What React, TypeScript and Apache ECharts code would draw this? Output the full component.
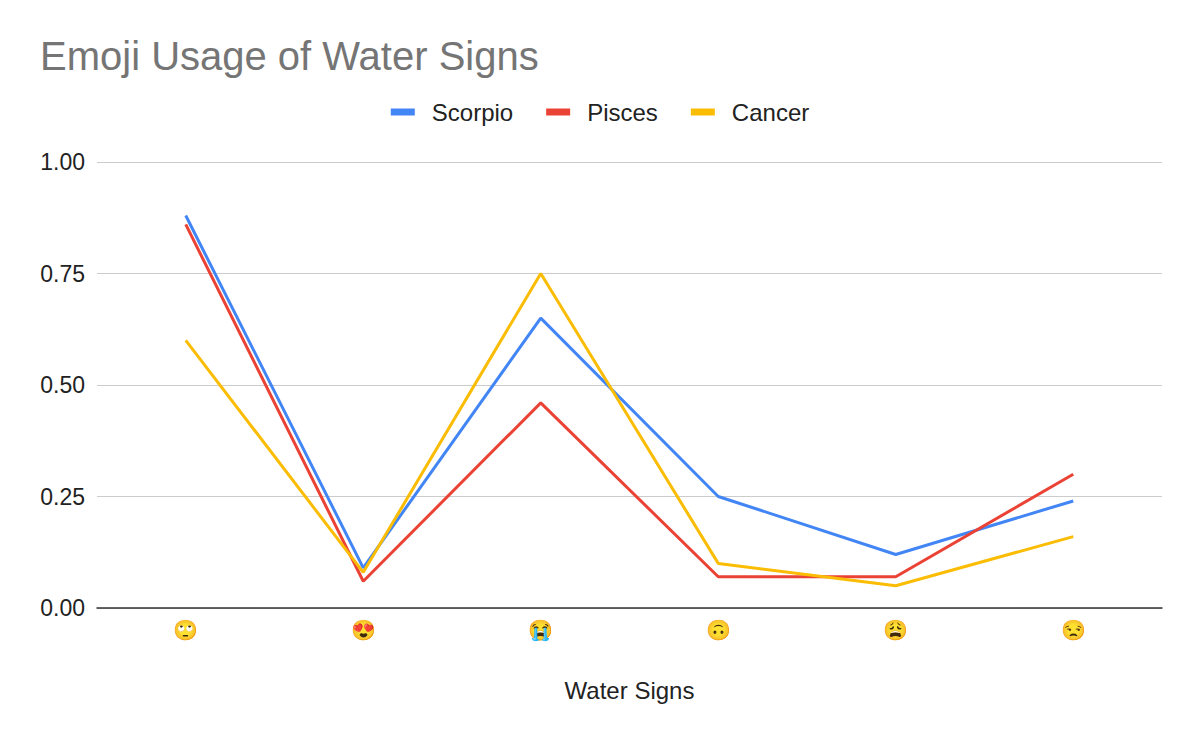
import React, { useEffect, useRef } from 'react';
import * as echarts from 'echarts';

const emojis = ['🙄', '😍', '😭', '🙃', '😩', '😒'];
const scorpio = [0.88, 0.09, 0.65, 0.25, 0.12, 0.24];
const pisces = [0.86, 0.06, 0.46, 0.07, 0.07, 0.3];
const cancer = [0.6, 0.08, 0.75, 0.1, 0.05, 0.16];

const font = '"Liberation Sans", Arial, sans-serif';

const App: React.FC = () => {
  const chartRef = useRef<HTMLDivElement | null>(null);

  useEffect(() => {
    let chart: echarts.ECharts | null = null;
    if (chartRef.current) {
      chart = echarts.init(chartRef.current, null, { renderer: 'svg' });

      const line = (name: string, data: number[], color: string) => ({
        name,
        type: 'line',
        data,
        symbol: 'none',
        color,
        lineStyle: { width: 3, color },
      });

      chart.setOption({
        animation: false,
        backgroundColor: '#ffffff',
        textStyle: { fontFamily: font },
        title: {
          text: 'Emoji Usage of Water Signs',
          left: 35,
          top: 31,
          textStyle: { fontSize: 40, fontWeight: 'normal', color: '#757575', fontFamily: font },
        },
        legend: {
          top: 95,
          left: 'center',
          icon: 'rect',
          itemWidth: 24,
          itemHeight: 7,
          itemGap: 33,
          textStyle: { fontSize: 24, color: '#222', padding: [0, 0, 0, 12], fontFamily: font },
          data: ['Scorpio', 'Pisces', 'Cancer'],
        },
        grid: { left: 97, right: 38, top: 162, bottom: 134 },
        xAxis: {
          type: 'category',
          data: emojis,
          boundaryGap: true,
          name: 'Water Signs',
          nameLocation: 'middle',
          nameGap: 70,
          nameTextStyle: { fontSize: 24, color: '#222', fontFamily: font },
          axisLine: { lineStyle: { color: '#333', width: 1.5 } },
          axisTick: { show: false },
          axisLabel: { fontSize: 20, margin: 12, color: '#222' },
        },
        yAxis: {
          type: 'value',
          min: 0,
          max: 1,
          interval: 0.25,
          axisLine: { show: false },
          axisTick: { show: false },
          splitLine: { lineStyle: { color: '#cccccc', width: 1 } },
          axisLabel: {
            fontSize: 23,
            margin: 12,
            color: '#222',
            fontFamily: font,
            formatter: (v: number) => v.toFixed(2),
          },
        },
        series: [
          line('Scorpio', scorpio, '#4285f4'),
          line('Pisces', pisces, '#ea4335'),
          line('Cancer', cancer, '#fbbc04'),
        ],
      });
    }
    return () => {
      chart?.dispose();
    };
  }, []);

  return (
    <div
      ref={chartRef}
      style={{ position: 'absolute', left: 0, top: 0, width: 1200, height: 742 }}
    />
  );
};

export default App;
